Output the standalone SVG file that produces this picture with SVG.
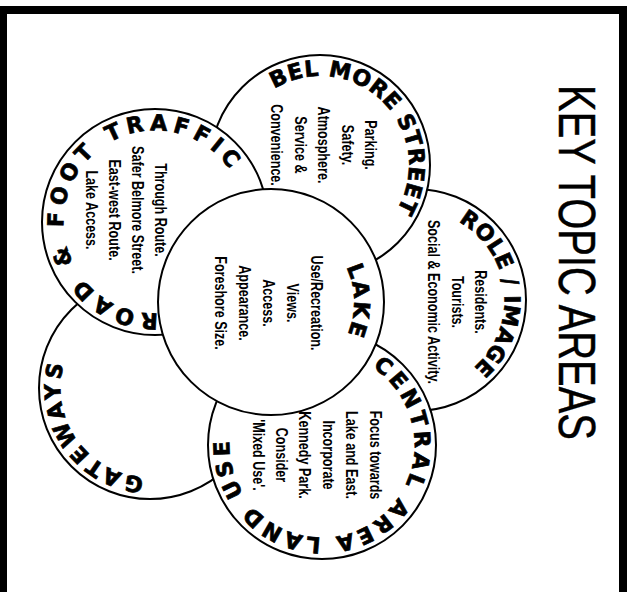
<svg xmlns="http://www.w3.org/2000/svg" width="633" height="592" viewBox="0 0 633 592">
<style>
.c{fill:#fff;stroke:#000;stroke-width:2}
.lbl{font-family:"DejaVu Sans","Liberation Sans",sans-serif;font-weight:bold;font-size:22px;fill:#000;stroke:#000;stroke-width:0.7}
.body{font-family:"Liberation Sans",Arial,sans-serif;font-weight:bold;font-size:17px;fill:#000;text-anchor:middle}
.title{font-family:"Liberation Sans",Arial,sans-serif;font-size:51px;fill:#000;stroke:#000;stroke-width:0.4}
</style>
<defs>
<path id="pBel" d="M274.2,88.7 A89,89 0 0 1 393.8,214.8"/>
<path id="pRoad" d="M158.2,313.4 A91.5,91.5 0 1 1 231.7,172.2"/>
<path id="pRole" d="M458.4,221.7 A89.5,89.5 0 0 1 471.3,369.5"/>
<path id="pLake" d="M346.2,266.9 A83,83 0 0 1 346.5,336.4"/>
<path id="pCen" d="M372.4,367.4 A92.5,92.5 0 1 1 229.8,437.7"/>
<path id="pGate" d="M143.8,477.3 A89.5,89.5 0 0 1 64.4,361.8"/>
</defs>
<rect width="633" height="592" fill="#fff"/>
<g id="frame" fill="#000">
<rect x="0" y="6" width="627" height="8"/>
<rect x="0" y="6" width="7" height="586"/>
<rect x="619" y="6" width="8" height="586"/>
</g>
<g id="connectors"/>
<g id="gateways">
<circle class="c" cx="150" cy="388" r="111"/>
<text class="lbl"><textPath href="#pGate" textLength="158" lengthAdjust="spacing">GATEWAYS</textPath></text>
</g>
<g id="role-image">
<circle class="c" cx="415" cy="300" r="111"/>
<text class="lbl"><textPath href="#pRole" textLength="172" lengthAdjust="spacing">ROLE / IMAGE</textPath></text>
<text class="body" transform="translate(475,302) rotate(90) scale(0.74,1)"><tspan x="0" y="0">Residents.</tspan><tspan x="0" y="23.5">Tourists.</tspan><tspan x="0" y="47">Social &amp; Economic Activity.</tspan></text>
</g>
<g id="belmore-street">
<circle class="c" cx="320" cy="165" r="110"/>
<text class="lbl"><textPath href="#pBel" textLength="235" lengthAdjust="spacing">BEL MORE STREET</textPath></text>
<text class="body" transform="translate(365,145) rotate(90) scale(0.74,1)"><tspan x="0" y="0">Parking.</tspan><tspan x="0" y="23.5">Safety.</tspan><tspan x="0" y="47">Atmosphere.</tspan><tspan x="0" y="70.5">Service &amp;</tspan><tspan x="0" y="94">Convenience.</tspan></text>
</g>
<g id="road-foot-traffic">
<circle class="c" cx="155" cy="222" r="113"/>
<text class="lbl"><textPath href="#pRoad" textLength="378" lengthAdjust="spacing">ROAD &amp; FOOT TRAFFIC</textPath></text>
<text class="body" transform="translate(155,210) rotate(90) scale(0.74,1)"><tspan x="0" y="0">Through Route.</tspan><tspan x="0" y="23">Safer Belmore Street.</tspan><tspan x="0" y="46">East-west Route.</tspan><tspan x="0" y="69">Lake Access.</tspan></text>
</g>
<g id="central-area-land-use">
<circle class="c" cx="322" cy="445" r="114"/>
<text class="lbl"><textPath href="#pCen" textLength="386" lengthAdjust="spacing">CENTRAL AREA LAND USE</textPath></text>
<text class="body" transform="translate(369.5,455) rotate(90) scale(0.74,1)"><tspan x="0" y="0">Focus towards</tspan><tspan x="0" y="23.4">Lake and East.</tspan><tspan x="0" y="46.8">Incorporate</tspan><tspan x="0" y="70.2">Kennedy Park.</tspan><tspan x="0" y="93.6">Consider</tspan><tspan x="0" y="117">'Mixed Use'.</tspan></text>
</g>
<g id="lake">
<circle class="c" cx="271" cy="302" r="113"/>
<text class="lbl"><textPath href="#pLake" textLength="69" lengthAdjust="spacing">LAKE</textPath></text>
<text class="body" transform="translate(310.5,303) rotate(90) scale(0.74,1)"><tspan x="0" y="0">Use/Recreation.</tspan><tspan x="0" y="24">Views.</tspan><tspan x="0" y="48">Access.</tspan><tspan x="0" y="72">Appearance.</tspan><tspan x="0" y="96">Foreshore Size.</tspan></text>
</g>
<g id="title">
<text class="title" transform="translate(559,85) rotate(90)" textLength="355" lengthAdjust="spacingAndGlyphs">KEY TOPIC AREAS</text>
</g>
</svg>
